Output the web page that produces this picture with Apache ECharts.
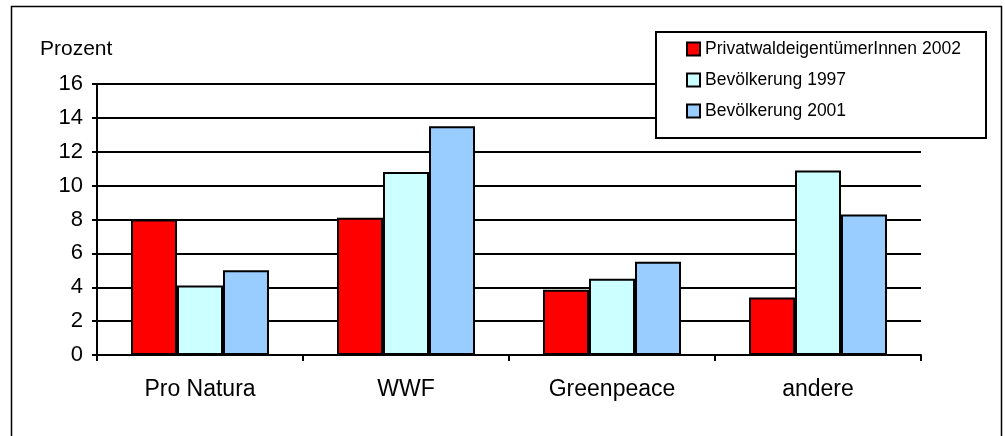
<!DOCTYPE html>
<html><head><meta charset="utf-8">
<script src="https://cdn.jsdelivr.net/npm/echarts@6/dist/echarts.min.js"></script>
<style>html,body{margin:0;padding:0;background:#fff}#c{width:1005px;height:436px}</style>
</head><body><div id="c"></div>
<script>
var categories = ['Pro Natura', 'WWF', 'Greenpeace', 'andere'];
var seriesNames = ['PrivatwaldeigentümerInnen 2002', 'Bevölkerung 1997', 'Bevölkerung 2001'];
var privat2002 = [8.0, 8.1, 3.85, 3.4];
var bev1997 = [4.1, 10.8, 4.5, 10.9];
var bev2001 = [5.0, 13.5, 5.5, 8.3];
var colors = ['#FF0000', '#CCFFFF', '#99CCFF'];
var yTicks = [0, 16, 2];

var font = 'Liberation Sans, Arial, sans-serif';
var data = [privat2002, bev1997, bev2001];
var chart = echarts.init(document.getElementById('c'), null, {renderer: 'canvas'});
chart.setOption({
  animation: false,
  backgroundColor: '#fff',
  grid: {left: 97, right: 84, top: 84, bottom: 81, containLabel: false},
  legend: {
    orient: 'vertical', left: 681, top: 35, z: 20,
    itemWidth: 13, itemHeight: 13, itemGap: 13, icon: 'rect',
    textStyle: {fontFamily: font, fontSize: 17.5, color: '#000', lineHeight: 18},
    data: seriesNames
  },
  xAxis: {
    type: 'category', data: categories,
    axisLine: {lineStyle: {color: '#000', width: 2}},
    axisTick: {show: true, alignWithLabel: false, length: 6, lineStyle: {color: '#000', width: 2}},
    axisLabel: {fontFamily: font, fontSize: 23, color: '#000', margin: 23}
  },
  yAxis: {
    type: 'value', min: yTicks[0], max: yTicks[1], interval: yTicks[2],
    axisLine: {show: true, lineStyle: {color: '#000', width: 2}},
    axisTick: {show: true, length: 5, lineStyle: {color: '#000', width: 2}},
    axisLabel: {fontFamily: font, fontSize: 22, color: '#000', margin: 14},
    splitLine: {lineStyle: {color: '#000', width: 2}}
  },
  series: seriesNames.map(function (n, i) {
    return {
      name: n, type: 'bar', data: data[i], barWidth: 46, barGap: '0%',
      itemStyle: {color: colors[i], borderColor: '#000', borderWidth: 2}
    };
  }),
  graphic: [
    {type: 'rect', left: 9, top: 4, shape: {width: 990, height: 460}, style: {fill: 'none', stroke: '#000', lineWidth: 1.5}, z: 10},
    {type: 'rect', left: 655, top: 31, shape: {width: 330, height: 106}, style: {fill: '#fff', stroke: '#000', lineWidth: 2}, z: 15},
    {type: 'text', left: 40, top: 39, style: {text: 'Prozent', fontFamily: font, fontSize: 21, fill: '#000'}}
  ]
});
</script></body></html>
